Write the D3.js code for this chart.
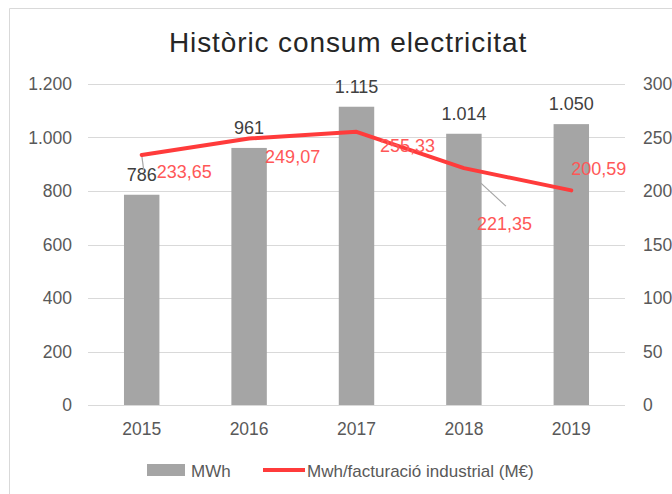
<!DOCTYPE html>
<html>
<head>
<meta charset="utf-8">
<script src="https://cdn.jsdelivr.net/npm/d3@7"></script>
<style>
  body { margin: 0; background: #fff; }
  svg { display: block; font-family: "Liberation Sans", Arial, sans-serif; }
</style>
</head>
<body>
<div id="chart"></div>
<script>
const years = ["2015", "2016", "2017", "2018", "2019"];
const mwh = [786, 961, 1115, 1014, 1050];
const ratio = [233.65, 249.07, 255.33, 221.35, 200.59];
const leftTicks = [0, 200, 400, 600, 800, 1000, 1200];
const rightTicks = [0, 50, 100, 150, 200, 250, 300];

const W = 672, H = 494;
const margin = { top: 84, right: 47, bottom: 89, left: 88 };
const width = W - margin.left - margin.right;
const height = H - margin.top - margin.bottom;

const loc = d3.formatLocale({ decimal: ",", thousands: ".", grouping: [3] });
const fmtInt = loc.format(",d");
const fmtDec = loc.format(",.2f");

const root = d3.select("#chart").append("svg")
  .attr("width", W).attr("height", H);

// chart frame
root.append("path")
  .attr("d", `M9.5,${H} V8.5 H${W}`)
  .attr("fill", "none").attr("stroke", "#d9d9d9");

root.append("text")
  .attr("x", 348).attr("y", 52)
  .attr("text-anchor", "middle")
  .attr("font-size", 28).attr("letter-spacing", 0.9).attr("fill", "#262626")
  .text("Històric consum electricitat");

const svg = root.append("g").attr("transform", `translate(${margin.left},${margin.top})`);

const x = d3.scaleBand().domain(years).range([0, width]).paddingInner(0.67).paddingOuter(0.335);
const y = d3.scaleLinear().domain([0, 1200]).range([height, 0]);
const y2 = d3.scaleLinear().domain([0, 300]).range([height, 0]);

// gridlines
svg.selectAll(".grid").data(leftTicks).join("line")
  .attr("x1", 0).attr("x2", width)
  .attr("y1", d => Math.round(y(d)) + 0.5).attr("y2", d => Math.round(y(d)) + 0.5)
  .attr("stroke", "#d9d9d9").attr("stroke-width", 1);

// left axis
const yAxis = svg.append("g")
  .attr("transform", "translate(-13,0)")
  .call(d3.axisLeft(y).tickValues(leftTicks).tickFormat(fmtInt).tickSize(0));
yAxis.select(".domain").remove();

// right axis
const y2Axis = svg.append("g")
  .attr("transform", `translate(${width + 15},0)`)
  .call(d3.axisRight(y2).tickValues(rightTicks).tickSize(0));
y2Axis.select(".domain").remove();

// bottom axis
const xAxis = svg.append("g")
  .attr("transform", `translate(0,${height})`)
  .call(d3.axisBottom(x).tickSize(0).tickPadding(18));
xAxis.select(".domain").remove();

svg.selectAll(".tick text")
  .attr("font-family", "Liberation Sans, Arial, sans-serif")
  .attr("font-size", 17.5).attr("fill", "#595959");

// bars
svg.selectAll(".bar").data(years).join("rect")
  .attr("x", d => x(d))
  .attr("width", x.bandwidth())
  .attr("y", (d, i) => y(mwh[i]))
  .attr("height", (d, i) => height - y(mwh[i]))
  .attr("fill", "#a5a5a5");

// bar labels
svg.selectAll(".barlab").data(years).join("text")
  .attr("x", d => x(d) + x.bandwidth() / 2)
  .attr("y", (d, i) => y(mwh[i]) - 14)
  .attr("text-anchor", "middle")
  .attr("font-size", 18).attr("fill", "#404040")
  .text((d, i) => fmtInt(mwh[i]));

// line
const cx = d => x(d) + x.bandwidth() / 2;
const line = d3.line().x(d => cx(d)).y((d, i) => y2(ratio[i]));

// leader lines for displaced labels
const leaders = [
  { i: 0, dx1: 0, dy1: 0, dx2: 2, dy2: 15 },
  { i: 3, dx1: 17, dy1: 15, dx2: 42, dy2: 38 }
];
svg.selectAll(".leader").data(leaders).join("line")
  .attr("x1", d => cx(years[d.i]) + d.dx1).attr("y1", d => y2(ratio[d.i]) + d.dy1)
  .attr("x2", d => cx(years[d.i]) + d.dx2).attr("y2", d => y2(ratio[d.i]) + d.dy2)
  .attr("stroke", "#a5a5a5").attr("stroke-width", 1.2);

svg.append("path")
  .attr("d", line(years))
  .attr("fill", "none")
  .attr("stroke", "#ff3b3b")
  .attr("stroke-width", 4)
  .attr("stroke-linejoin", "round")
  .attr("stroke-linecap", "round");

// line labels (offsets from each point)
const labelOffsets = [[15, 23.5], [16, 25], [23.5, 20], [13, 62], [0, -15.5]];
svg.selectAll(".linelab").data(years).join("text")
  .attr("x", (d, i) => cx(d) + labelOffsets[i][0])
  .attr("y", (d, i) => y2(ratio[i]) + labelOffsets[i][1])
  .attr("font-size", 18).attr("fill", "#ff5757")
  .text((d, i) => fmtDec(ratio[i]));

// legend
const leg = root.append("g").attr("transform", "translate(0,470)");
leg.append("rect").attr("x", 147).attr("y", -6).attr("width", 38).attr("height", 12).attr("fill", "#a5a5a5");
leg.append("text").attr("x", 191).attr("y", 7).attr("font-size", 17).attr("fill", "#595959").text("MWh");
leg.append("line").attr("x1", 263).attr("x2", 305).attr("y1", 0).attr("y2", 0)
  .attr("stroke", "#ff3b3b").attr("stroke-width", 4);
leg.append("text").attr("x", 307).attr("y", 7).attr("font-size", 17).attr("fill", "#595959")
  .text("Mwh/facturació industrial (M€)");
</script>
</body>
</html>
